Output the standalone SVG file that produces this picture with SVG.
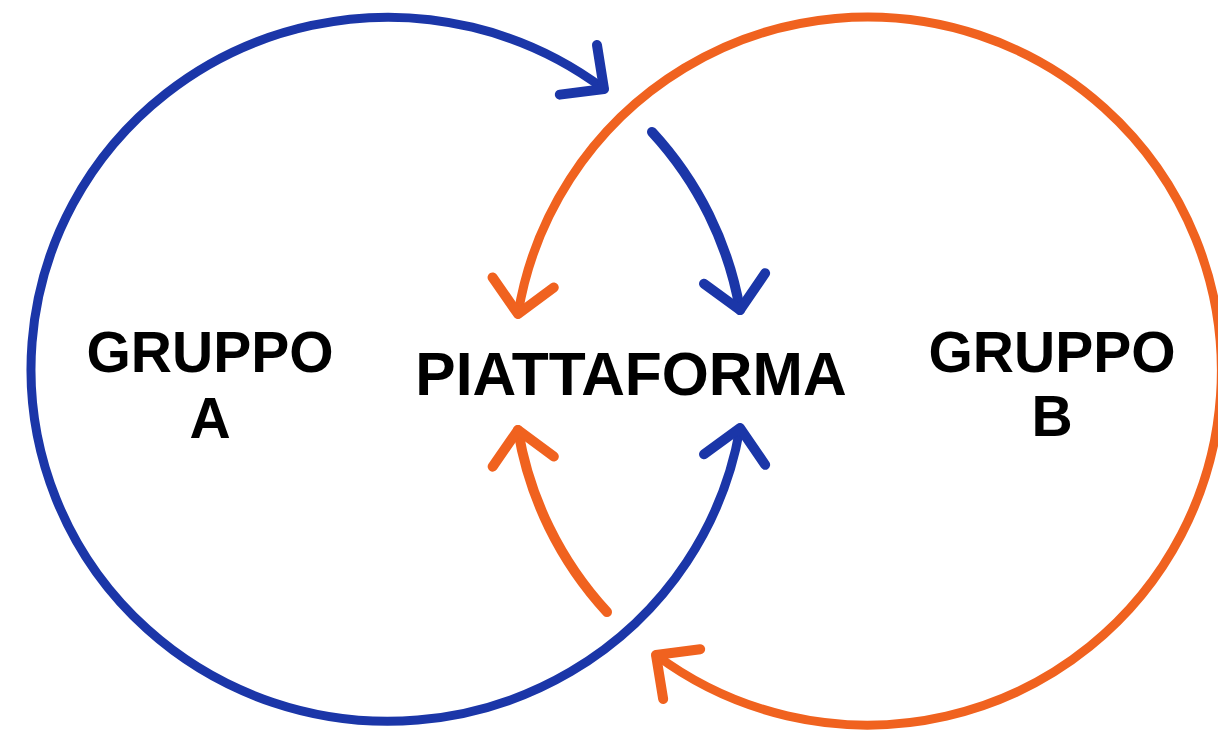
<svg xmlns="http://www.w3.org/2000/svg" width="1218" height="738" viewBox="0 0 1218 738">
<style>
.bg{fill:#ffffff}
.blue{fill:none;stroke:#1b36a8;stroke-width:9;stroke-linecap:round}
.orange{fill:none;stroke:#f0621f;stroke-width:9;stroke-linecap:round}
.short{stroke-width:10}
.lbl{font-family:"Liberation Sans",Arial,sans-serif;font-weight:bold;fill:#000000;text-anchor:middle}
.grp{font-size:57px}
.plat{font-size:60.5px}
</style>
<defs>
<marker id="arrB" markerUnits="userSpaceOnUse" markerWidth="80" markerHeight="80" viewBox="-45 -40 60 80" refX="0" refY="0" orient="auto-start-reverse" overflow="visible">
<path d="M -32,-31 L 0,0 L -32,31" fill="none" stroke="#1b36a8" stroke-width="10" stroke-linecap="round" stroke-linejoin="round"/>
</marker>
<marker id="arrO" markerUnits="userSpaceOnUse" markerWidth="80" markerHeight="80" viewBox="-45 -40 60 80" refX="0" refY="0" orient="auto-start-reverse" overflow="visible">
<path d="M -32,-31 L 0,0 L -32,31" fill="none" stroke="#f0621f" stroke-width="10" stroke-linecap="round" stroke-linejoin="round"/>
</marker>
</defs>
<rect class="bg" x="0" y="0" width="1218" height="738"/>
<g id="connectors">
<path id="blue-loop" class="blue" d="M 740,428 A 357 352 0 1 1 604,89" marker-start="url(#arrB)" marker-end="url(#arrB)"/>
<path id="blue-to-platform" class="blue short" d="M 652,132 A 357 352 0 0 1 740,310" marker-end="url(#arrB)"/>
<path id="orange-loop" class="orange" d="M 518,314 A 354 354 0 1 1 656,655" marker-start="url(#arrO)" marker-end="url(#arrO)"/>
<path id="orange-to-platform" class="orange short" d="M 607,612 A 354 354 0 0 1 518,430" marker-end="url(#arrO)"/>
</g>
<g id="gruppo-a">
<text class="lbl grp" x="210" y="372">GRUPPO</text>
<text class="lbl grp" x="210" y="438">A</text>
</g>
<g id="piattaforma">
<text class="lbl plat" x="631" y="395">PIATTAFORMA</text>
</g>
<g id="gruppo-b">
<text class="lbl grp" x="1052" y="372">GRUPPO</text>
<text class="lbl grp" x="1052" y="436">B</text>
</g>
</svg>
